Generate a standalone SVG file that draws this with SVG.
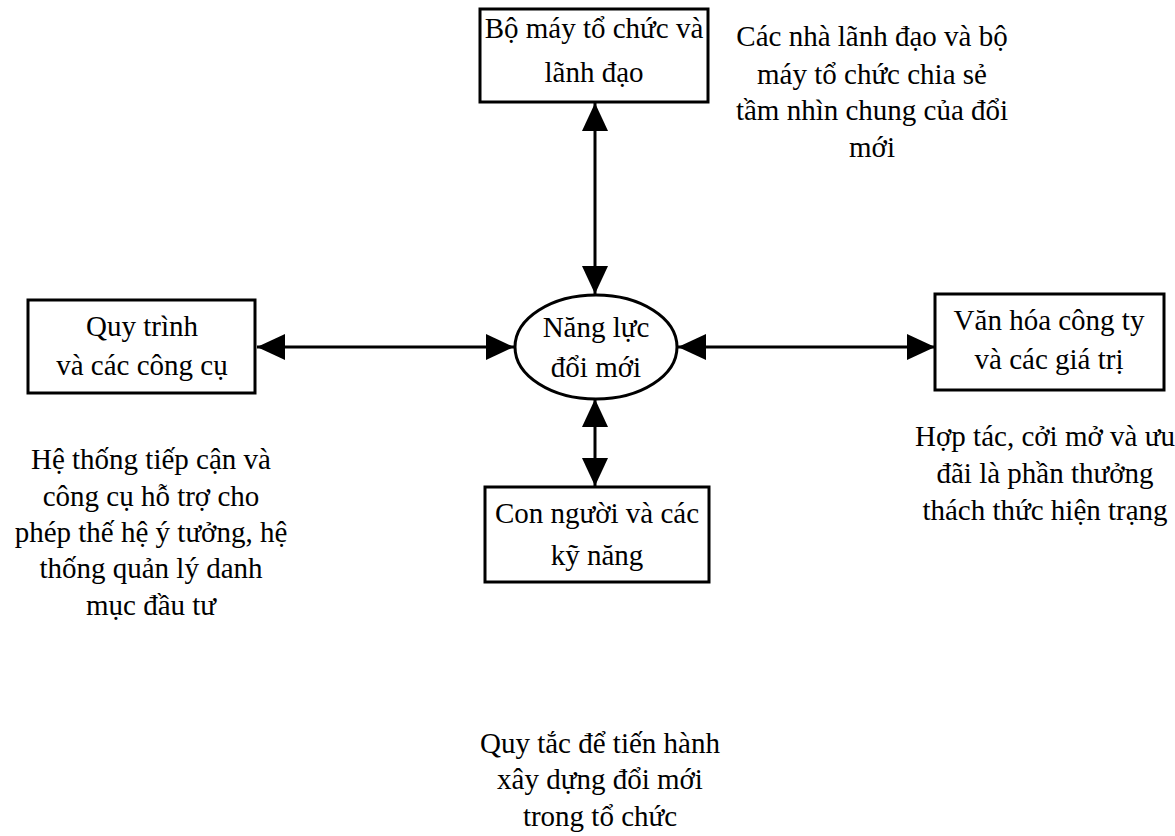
<svg xmlns="http://www.w3.org/2000/svg" width="1175" height="836" viewBox="0 0 1175 836">
<style>
.box{fill:#fff;stroke:#000;stroke-width:3}
.t{font-family:"Liberation Serif","Times New Roman",serif;font-size:29px;fill:#000;text-anchor:middle}
.c{stroke:#000;stroke-width:3;fill:none}
</style>
<defs>
<marker id="ah" markerUnits="userSpaceOnUse" markerWidth="30" markerHeight="26" refX="28" refY="13" orient="auto-start-reverse">
<path d="M0,0 L28,13 L0,26 Z" fill="#000"/>
</marker>
</defs>
<rect width="1175" height="836" fill="#fff"/>
<g id="connectors">
<line class="c" x1="595" y1="103" x2="595" y2="294" marker-start="url(#ah)" marker-end="url(#ah)"/>
<line class="c" x1="257" y1="347" x2="514" y2="347" marker-start="url(#ah)" marker-end="url(#ah)"/>
<line class="c" x1="678" y1="347" x2="935" y2="347" marker-start="url(#ah)" marker-end="url(#ah)"/>
<line class="c" x1="595" y1="399" x2="595" y2="486" marker-start="url(#ah)" marker-end="url(#ah)"/>
</g>
<g id="top">
<rect class="box" x="480" y="9" width="228" height="93"/>
<text class="t" x="594" y="38">Bộ máy tổ chức và</text>
<text class="t" x="594" y="82">lãnh đạo</text>
</g>
<g id="center">
<ellipse class="box" cx="596" cy="347" rx="81" ry="52"/>
<text class="t" x="596" y="337">Năng lực</text>
<text class="t" x="596" y="377">đổi mới</text>
</g>
<g id="left">
<rect class="box" x="28" y="300" width="227" height="93"/>
<text class="t" x="142" y="336">Quy trình</text>
<text class="t" x="142" y="375">và các công cụ</text>
</g>
<g id="right">
<rect class="box" x="935" y="294" width="229" height="96"/>
<text class="t" x="1049" y="330">Văn hóa công ty</text>
<text class="t" x="1049" y="369">và các giá trị</text>
</g>
<g id="bottom">
<rect class="box" x="485" y="487" width="224" height="95"/>
<text class="t" x="597" y="523">Con người và các</text>
<text class="t" x="597" y="565">kỹ năng</text>
</g>
<g id="notes">
<text class="t" x="872" y="46">Các nhà lãnh đạo và bộ</text>
<text class="t" x="872" y="84">máy tổ chức chia sẻ</text>
<text class="t" x="872" y="120">tầm nhìn chung của đổi</text>
<text class="t" x="872" y="157">mới</text>
<text class="t" x="151" y="469">Hệ thống tiếp cận và</text>
<text class="t" x="151" y="506">công cụ hỗ trợ cho</text>
<text class="t" x="151" y="542">phép thế hệ ý tưởng, hệ</text>
<text class="t" x="151" y="578">thống quản lý danh</text>
<text class="t" x="151" y="615">mục đầu tư</text>
<text class="t" x="1045" y="446">Hợp tác, cởi mở và ưu</text>
<text class="t" x="1045" y="483">đãi là phần thưởng</text>
<text class="t" x="1045" y="520">thách thức hiện trạng</text>
<text class="t" x="600" y="753">Quy tắc để tiến hành</text>
<text class="t" x="600" y="789">xây dựng đổi mới</text>
<text class="t" x="600" y="826">trong tổ chức</text>
</g>
</svg>
